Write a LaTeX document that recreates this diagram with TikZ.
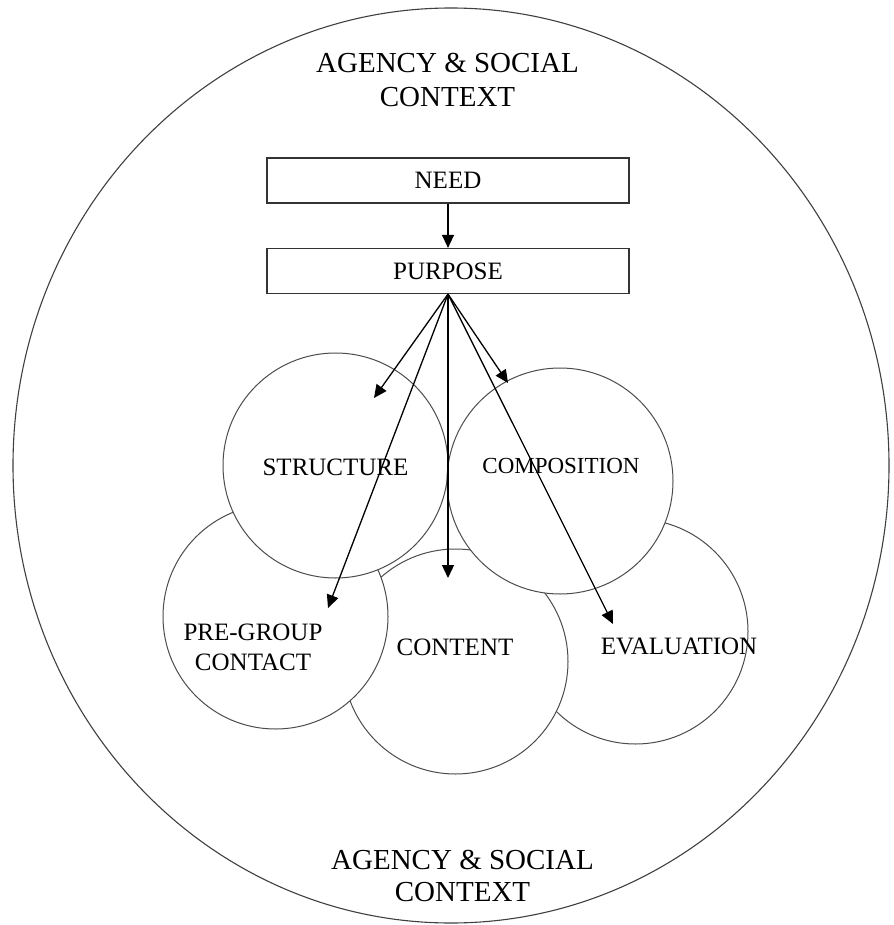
\documentclass[tikz,border=0pt]{standalone}
\usepackage{fontspec}
\setmainfont{Liberation Serif}
\usetikzlibrary{arrows.meta}
\begin{document}
\begin{tikzpicture}[x=1pt,y=-1pt,
  bubble/.style={circle,draw=black!70,line width=1pt,fill=white,minimum size=225pt,inner sep=0pt},
  boxnode/.style={draw=black!80,line width=1.2pt,minimum width=362pt,minimum height=45pt,inner sep=0pt,font=\fontsize{25}{30}\selectfont},
  lbl/.style={font=\fontsize{25}{30}\selectfont,inner sep=0pt,align=center},
  biglbl/.style={font=\fontsize{29}{34}\selectfont,inner sep=0pt,align=center},
  arr/.style={-{Triangle[length=13pt,width=12pt]},line width=1.3pt}]
\useasboundingbox (0,0) rectangle (893,925);
\fill[white] (0,0) rectangle (893,925);
% outer context
\draw[draw=black!75,line width=1.1pt] (451,465.5) ellipse [x radius=438, y radius=457.5];
\node[biglbl] (ctxtop) at (447.5,80) {AGENCY \& SOCIAL\\CONTEXT};
\node[biglbl,font=\fontsize{29}{32}\selectfont] (ctxbot) at (462.5,876) {AGENCY \& SOCIAL\\CONTEXT};
% boxes
\node[boxnode] (need) at (448,180.5) {NEED};
\node[boxnode] (purpose) at (448,271) {PURPOSE};
% circles (back to front)
\node[bubble] (eval) at (635.5,631.5) {};
\node[bubble] (content) at (455.5,661.5) {};
\node[bubble] (pregroup) at (275.5,616.5) {};
\node[bubble] (structure) at (335.5,465.5) {};
\node[bubble,minimum size=226pt] (composition) at (560,481) {};
% labels
\node[lbl] (lstructure) at (335.5,467) {STRUCTURE};
\node[lbl,font=\fontsize{23}{28}\selectfont] (lcomposition) at (561,466) {COMPOSITION};
\node[lbl] (lpregroup) at (253,647) {PRE-GROUP\\CONTACT};
\node[lbl] (lcontent) at (455,647.5) {CONTENT};
\node[lbl] (leval) at (679,646.5) {EVALUATION};
% arrow ends
\coordinate (tS) at (374,398);
\coordinate (tP) at (328,608);
\coordinate (tT) at (448,578);
\coordinate (tC) at (508,383);
\coordinate (tE) at (613,624);
% arrows
\draw[arr] (need.south) -- (purpose.north);
\draw[arr] (purpose.south) -- (tS);
\draw[arr] (purpose.south) -- (tP);
\draw[arr] (purpose.south) -- (tT);
\draw[arr] (purpose.south) -- (tC);
\draw[arr] (purpose.south) -- (tE);
\end{tikzpicture}
\end{document}
